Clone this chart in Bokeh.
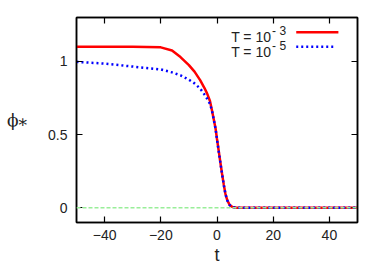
from bokeh.plotting import figure
from bokeh.models import Range1d, LinearAxis, Label, FixedTicker, Span
from bokeh.embed import file_html
from bokeh.resources import INLINE

# data
t = [-50, -40, -30, -25, -20, -16, -13, -10, -8, -6, -4.5, -3.5, -2.5, -1.8, -1, -0.5, 0,
     0.6, 1.2, 1.8, 2.4, 3, 3.7, 4.5, 5.5, 7, 10, 20, 30, 40, 50]
phi_T3 = [1.100, 1.100, 1.100, 1.099, 1.096, 1.075, 1.030, 0.975, 0.930, 0.872, 0.820, 0.780,
          0.730, 0.666, 0.590, 0.540, 0.470, 0.390, 0.310, 0.233, 0.160, 0.096, 0.050, 0.020,
          0.006, 0.001, 0.0, 0.0, 0.0, 0.0, 0.0]
phi_T5 = [0.997, 0.985, 0.965, 0.955, 0.945, 0.925, 0.905, 0.875, 0.850, 0.815, 0.775, 0.745,
          0.710, 0.664, 0.588, 0.538, 0.468, 0.388, 0.308, 0.231, 0.158, 0.094, 0.049, 0.019,
          0.005, 0.001, 0.0, 0.0, 0.0, 0.0, 0.0]
x_ticks = [-40, -20, 0, 20, 40]
y_ticks = [0, 0.5, 1]
legend_labels = ["T = 10", "T = 10"]
legend_exps = ["- 3", "- 5"]

FONT = "Liberation Sans"
W, H = 382, 267

p = figure(width=W, height=H, output_backend="svg", toolbar_location=None,
           x_range=Range1d(-50, 50), y_range=Range1d(-0.1, 1.3),
           min_border_left=76, min_border_right=25, min_border_top=17, min_border_bottom=45)
p.grid.visible = False
p.outline_line_color = "black"
p.outline_line_width = 1.5
p.background_fill_color = "white"
p.border_fill_color = "white"

def style(ax, labels=True):
    ax.major_tick_in = 6
    ax.major_tick_out = 0
    ax.minor_tick_line_color = None
    ax.axis_line_color = "black"
    ax.axis_line_width = 1.5
    ax.major_tick_line_width = 1.2
    ax.major_label_text_font = FONT
    ax.major_label_text_font_size = "14px"
    ax.major_label_text_color = "#222222"
    if not labels:
        ax.major_label_text_font_size = "1px"
        ax.major_label_text_color = None
        ax.major_label_standoff = 0

p.xaxis.ticker = FixedTicker(ticks=x_ticks)
p.yaxis.ticker = FixedTicker(ticks=y_ticks)
style(p.xaxis[0]); style(p.yaxis[0])
p.xaxis.major_label_standoff = 7
p.yaxis.major_label_standoff = 9

p.xaxis.axis_label = "t"
p.xaxis.axis_label_text_font = FONT
p.xaxis.axis_label_text_font_size = "18px"
p.xaxis.axis_label_text_font_style = "normal"
p.xaxis.axis_label_text_color = "#222222"
p.xaxis.axis_label_standoff = 2

p.yaxis.axis_label = "ϕ⁎"
p.yaxis.axis_label_orientation = "horizontal"
p.yaxis.axis_label_text_font = "DejaVu Serif"
p.yaxis.axis_label_text_font_size = "17px"
p.yaxis.axis_label_text_font_style = "normal"
p.yaxis.axis_label_text_color = "#222222"
p.yaxis.axis_label_standoff = 18

top = LinearAxis(ticker=FixedTicker(ticks=x_ticks)); style(top, False)
right = LinearAxis(ticker=FixedTicker(ticks=y_ticks)); style(right, False)
p.add_layout(top, "above")
p.add_layout(right, "right")

# zero line
p.add_layout(Span(location=0, dimension="width", line_color="#99ee99", line_width=1.5,
                  line_dash="4 2"))

p.line(t, phi_T3, line_color="red", line_width=2.5)
p.line(t, phi_T5, line_color="blue", line_width=2.5, line_dash="2 3")

# legend (gnuplot style: text then sample)
rows_y = [1.168, 1.066]
sample_y = [1.2, 1.1]
p.line([28.2, 43.2], [sample_y[0]] * 2, line_color="red", line_width=2.5)
p.line([28.2, 42.2], [sample_y[1]] * 2, line_color="blue", line_width=2.5, line_dash="2 3")
for lab, ex, yb in zip(legend_labels, legend_exps, rows_y):
    p.add_layout(Label(x=19.3, y=yb, text=lab, text_align="right", text_baseline="alphabetic",
                       text_font=FONT, text_font_size="14px", text_color="#222222"))
    p.add_layout(Label(x=19.6, y=yb + 0.04, text=ex, text_align="left", text_baseline="alphabetic",
                       text_font=FONT, text_font_size="12px", text_color="#222222"))

open("out.html", "w").write(file_html(p, INLINE))
